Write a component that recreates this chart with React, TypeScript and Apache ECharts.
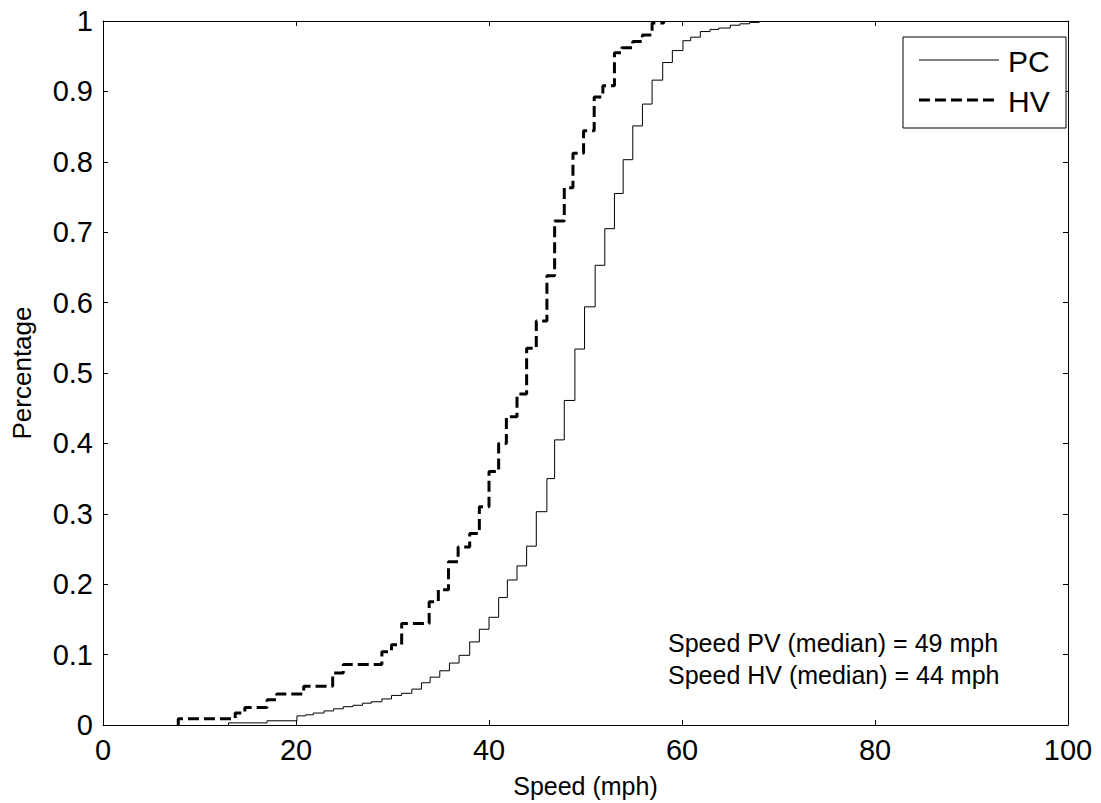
import React, { useEffect, useRef } from "react";
import * as echarts from "echarts";

// Empirical CDF step points: [speed (mph), cumulative share]
const pcSpeeds = [13.0, 13.0, 17.0, 20.1, 21.0, 21.8, 22.9, 23.9, 24.9, 25.9, 26.9, 27.8, 28.9, 29.9, 30.95, 32.0, 33.0, 33.9, 34.9, 35.9, 36.9, 38.0, 39.0, 40.0, 41.0, 41.9, 42.9, 43.9, 44.9, 46.0, 46.8, 47.8, 48.9, 49.9, 51.0, 52.0, 53.0, 53.9, 54.9, 55.9, 56.9, 58.0, 59.0, 60.1, 60.9, 61.9, 62.9, 63.8, 65.0, 66.0, 67.0, 68.0];
const pcShares = [0, 0.003, 0.006, 0.013, 0.0145, 0.017, 0.02, 0.023, 0.026, 0.028, 0.031, 0.033, 0.037, 0.042, 0.045, 0.051, 0.06, 0.068, 0.077, 0.088, 0.099, 0.118, 0.136, 0.153, 0.181, 0.206, 0.226, 0.254, 0.303, 0.35, 0.405, 0.461, 0.534, 0.594, 0.653, 0.705, 0.755, 0.803, 0.851, 0.882, 0.916, 0.941, 0.958, 0.972, 0.977, 0.985, 0.988, 0.99, 0.994, 0.996, 0.998, 1.0];

const hvSpeeds = [7.8, 7.8, 13.7, 14.7, 17.0, 18.0, 20.8, 23.8, 24.9, 28.9, 29.9, 30.95, 33.8, 34.75, 35.8, 36.8, 38.0, 39.0, 40.0, 41.0, 41.8, 42.9, 43.9, 44.9, 46.0, 46.8, 47.8, 48.7, 49.8, 50.9, 51.8, 53.0, 53.75, 54.9, 55.9, 56.9, 58.1];
const hvShares = [0, 0.009, 0.017, 0.025, 0.036, 0.044, 0.055, 0.074, 0.086, 0.104, 0.114, 0.144, 0.175, 0.192, 0.232, 0.253, 0.272, 0.31, 0.36, 0.4, 0.438, 0.47, 0.535, 0.574, 0.638, 0.716, 0.763, 0.812, 0.844, 0.892, 0.908, 0.955, 0.962, 0.971, 0.98, 0.997, 1.0];

const seriesNames = ["PC", "HV"];
const annotations = ["Speed PV (median) = 49 mph", "Speed HV (median) = 44 mph"];
const xAxisTitle = "Speed (mph)";
const yAxisTitle = "Percentage";

const FONT = "'Liberation Sans', Arial, Helvetica, sans-serif";

const zip = (xs: number[], ys: number[]) => xs.map((x, i) => [x, ys[i]]);
const tick = () => ({ show: true, inside: true, length: 5, lineStyle: { color: "#000", width: 1 } });
const axLine = () => ({ show: true, onZero: false, lineStyle: { color: "#000", width: 1 } });

export default function App() {
  const ref = useRef<HTMLDivElement>(null);

  useEffect(() => {
    if (!ref.current) return;
    const chart = echarts.init(ref.current, null, { renderer: "svg" });

    chart.setOption({
      animation: false,
      backgroundColor: "#fff",
      grid: { left: 103, top: 21, right: 33, bottom: 78, containLabel: false },
      xAxis: [
        {
          type: "value", min: 0, max: 100, interval: 20, position: "bottom",
          axisLine: axLine(), axisTick: tick(), splitLine: { show: false },
          axisLabel: { color: "#000", fontSize: 29, fontFamily: FONT, margin: 10 },
          name: xAxisTitle, nameLocation: "middle", nameGap: 48,
          nameTextStyle: { color: "#000", fontSize: 25, fontFamily: FONT },
        },
        {
          type: "value", min: 0, max: 100, interval: 20, position: "top",
          axisLine: axLine(), axisTick: tick(), splitLine: { show: false },
          axisLabel: { show: false },
        },
      ],
      yAxis: [
        {
          type: "value", min: 0, max: 1, interval: 0.1, position: "left",
          axisLine: axLine(), axisTick: tick(), splitLine: { show: false },
          axisLabel: {
            color: "#000", fontSize: 29, fontFamily: FONT, margin: 10,
            formatter: (v: number) => String(Math.round(v * 10) / 10),
          },
          name: yAxisTitle, nameLocation: "middle", nameGap: 68,
          nameTextStyle: { color: "#000", fontSize: 26, fontFamily: FONT },
        },
        {
          type: "value", min: 0, max: 1, interval: 0.1, position: "right",
          axisLine: axLine(), axisTick: tick(), splitLine: { show: false },
          axisLabel: { show: false },
        },
      ],
      series: [
        {
          name: seriesNames[0], type: "line", step: "end", xAxisIndex: 0, yAxisIndex: 0,
          data: zip(pcSpeeds, pcShares), showSymbol: false, symbol: "none",
          lineStyle: { color: "#000", width: 1 },
        },
        {
          name: seriesNames[1], type: "line", step: "end", xAxisIndex: 0, yAxisIndex: 0,
          data: zip(hvSpeeds, hvShares), showSymbol: false, symbol: "none",
          lineStyle: { color: "#000", width: 3, type: [11, 5] },
        },
      ],
      graphic: [
        {
          type: "rect", z: 100,
          shape: { x: 903, y: 37, width: 163, height: 91 },
          style: { fill: "#fff", stroke: "#000", lineWidth: 1 },
        },
        {
          type: "line", z: 101,
          shape: { x1: 919, y1: 60, x2: 999, y2: 60 },
          style: { stroke: "#000", lineWidth: 1 },
        },
        {
          type: "line", z: 101,
          shape: { x1: 919, y1: 100, x2: 999, y2: 100 },
          style: { stroke: "#000", lineWidth: 3, lineDash: [11, 5] },
        },
        {
          type: "text", z: 101, x: 1008, y: 61,
          style: { text: seriesNames[0], fill: "#000", fontSize: 30, fontFamily: FONT, verticalAlign: "middle" },
        },
        {
          type: "text", z: 101, x: 1008, y: 101,
          style: { text: seriesNames[1], fill: "#000", fontSize: 30, fontFamily: FONT, verticalAlign: "middle" },
        },
        {
          type: "text", z: 101, x: 668, y: 643,
          style: { text: annotations[0], fill: "#000", fontSize: 25, fontFamily: FONT, verticalAlign: "middle" },
        },
        {
          type: "text", z: 101, x: 668, y: 675,
          style: { text: annotations[1], fill: "#000", fontSize: 25, fontFamily: FONT, verticalAlign: "middle" },
        },
      ],
    });

    return () => chart.dispose();
  }, []);

  return (
    <div
      ref={ref}
      style={{ position: "fixed", left: 0, top: 0, width: 1101, height: 803, background: "#fff" }}
    />
  );
}
